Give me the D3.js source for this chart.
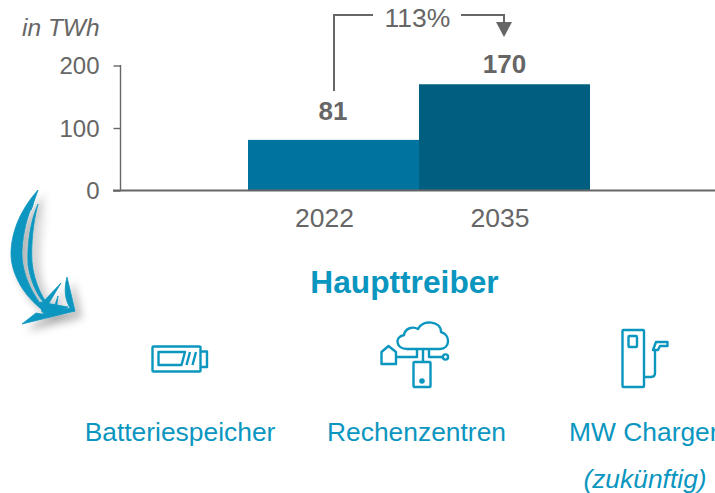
<!DOCTYPE html>
<html><head><meta charset="utf-8"><script src="https://cdn.jsdelivr.net/npm/d3@7"></script>
<style>html,body{margin:0;background:#fff;overflow:hidden}svg{display:block}text{font-family:"Liberation Sans",Arial,sans-serif}</style></head>
<body><svg id="c" width="715" height="493"></svg>
<script>
const categories=["2022","2035"];
const values=[81,170];
const barColors=["#00739f","#005f80"];
const yTicks=[0,100,200];
const growthLabel="113%";
const unitLabel="in TWh";
const title="Haupttreiber";
const drivers=["Batteriespeicher","Rechenzentren","MW Charger"];
const note="(zukünftig)";
const blue="#0b96bf",grey="#666666";
const svg=d3.select("#c");
const defs=svg.append("defs");
const f=defs.append("filter").attr("id","sh").attr("x","-40%").attr("y","-40%").attr("width","200%").attr("height","200%");
f.append("feDropShadow").attr("dx",6).attr("dy",6).attr("stdDeviation",4).attr("flood-color","#000").attr("flood-opacity",0.33);
const y=d3.scaleLinear().domain([0,200]).range([190.5,65.5]);
const x=d3.scaleBand().domain(categories).range([248,590]).padding(0);
const ax=svg.append("g").attr("transform","translate(120.5,0)").call(d3.axisLeft(y).tickValues(yTicks).tickSize(7).tickPadding(14).tickFormat(d3.format("d")));
ax.select(".domain").attr("stroke",grey).attr("stroke-width",1.4).attr("d","M0,65V191");
ax.selectAll(".tick line").attr("stroke",grey).attr("stroke-width",1.4);
ax.selectAll("text").attr("font-size",24).attr("fill",grey).attr("dy","0.34em");
svg.selectAll(".bar").data(values).join("rect").attr("x",(d,i)=>x(categories[i])).attr("width",x.bandwidth()).attr("y",d=>y(d)).attr("height",d=>y(0)-y(d)).attr("fill",(d,i)=>barColors[i]);
svg.append("line").attr("x1",113).attr("x2",715).attr("y1",y(0)).attr("y2",y(0)).attr("stroke",grey).attr("stroke-width",1.8);
svg.selectAll(".cat").data(categories).join("text").attr("x",(d,i)=>[324.5,500][i]).attr("y",227).attr("text-anchor","middle").attr("font-size",26.5).attr("fill",grey).text(d=>d);
svg.selectAll(".val").data(values).join("text").attr("x",(d,i)=>[333,504.5][i]).attr("y",(d,i)=>[120,73][i]).attr("text-anchor","middle").attr("font-size",26).attr("font-weight","bold").attr("fill",grey).text(d=>d);
svg.append("text").attr("x",22).attr("y",36).attr("font-size",24.5).attr("font-style","italic").attr("fill",grey).text(unitLabel);
svg.append("text").attr("x",417.5).attr("y",27).attr("text-anchor","middle").attr("font-size",26.5).attr("fill",grey).text(growthLabel);
svg.append("path").attr("d","M334,91V15H373").attr("fill","none").attr("stroke",grey).attr("stroke-width",2);
svg.append("path").attr("d","M461,15H504V24").attr("fill","none").attr("stroke",grey).attr("stroke-width",2);
svg.append("path").attr("d","M496,22H512L504,37Z").attr("fill",grey);
svg.append("text").attr("x",404.5).attr("y",293).attr("text-anchor","middle").attr("font-size",31.7).attr("font-weight","bold").attr("fill",blue).text(title);
svg.selectAll(".drv").data(drivers).join("text").attr("x",(d,i)=>[180,416.5,569][i]).attr("y",441).attr("text-anchor",(d,i)=>i==2?"start":"middle").attr("font-size",26.4).attr("fill",blue).text(d=>d);
svg.append("text").attr("x",645).attr("y",488).attr("text-anchor","middle").attr("font-size",26.4).attr("font-style","italic").attr("fill",blue).text(note);
// hand-drawn swoosh arrow
const sw=svg.append("g").attr("filter","url(#sh)").attr("fill",blue).attr("stroke",blue).attr("stroke-width",0.8).attr("stroke-linejoin","round");
sw.append("path").attr("d","M38,190C22,208 11,230 11,255C12,280 30,303 50,315C34,298 21,275 22,250C23,232 28,214 33,204L31,210Z");
sw.append("path").attr("d","M38,204C30,222 27,245 28,265C31,285 40,302 54,313C43,300 34,283 32,262C31,245 33,222 38,204Z");
sw.append("path").attr("d","M22,324L75,311L70,308L42,314L36,313Z");
sw.append("path").attr("d","M67,277L75,311L72,311C66,303 63,292 67,277Z");
sw.append("path").attr("d","M61,283L42,303L46,308Z");
sw.append("path").attr("d","M40,302L68,307L52,316L42,312Z");
sw.append("path").attr("d","M58,296L53,311L56,312Z");
// icons
const ic=svg.append("g").attr("fill","none").attr("stroke",blue).attr("stroke-width",2.4).attr("stroke-linejoin","round");
ic.append("rect").attr("x",152.5).attr("y",346.5).attr("width",48).attr("height",25).attr("rx",1);
ic.append("path").attr("d","M201,351.5H207V367H201");
ic.append("path").attr("d","M158.5,352H185L181.5,365H158.5Z");
ic.append("path").attr("d","M190,352L186.5,365M196,352L192.5,365");
ic.append("path").attr("d","M407,349C396,349 394,337 404,335C405,328 413,326 418,329C423,319 441,321 441,332C451,335 450,349 440,349Z");
ic.append("path").attr("d","M381.5,364V352L388.5,346L396,352V364Z");
ic.append("path").attr("d","M396,357H417V350M423,349V362M429,350V357H443");
ic.append("circle").attr("cx",445.5).attr("cy",357).attr("r",2.6);
ic.append("rect").attr("x",413.5).attr("y",362).attr("width",17).attr("height",25).attr("rx",1);
ic.append("circle").attr("cx",422).attr("cy",381).attr("r",1.6).attr("fill",blue);
ic.append("rect").attr("x",622.5).attr("y",330).attr("width",21.5).attr("height",57).attr("rx",1);
ic.append("rect").attr("x",628.5).attr("y",336).attr("width",8.5).attr("height",11).attr("rx",1);
ic.append("path").attr("d","M644,377H651Q655,377 655,373V351");
ic.append("path").attr("d","M653,350L656,342H667.5V346H660L658,350Z");
</script></body></html>
